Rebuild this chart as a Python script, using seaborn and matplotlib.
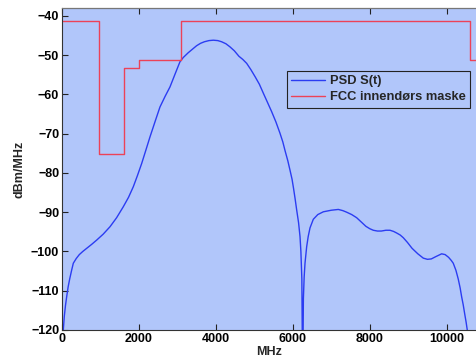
import matplotlib
matplotlib.use("Agg")
import matplotlib.pyplot as plt
import seaborn as sns
import pandas as pd

# PSD S(t) curve (MHz, dBm/MHz)
psd_mhz = [20, 34, 60, 90, 122, 160, 200, 250, 294, 370, 450, 540, 642, 770, 902,
           1070, 1248, 1420, 1594, 1730, 1854, 1960, 2071, 2180, 2288, 2420, 2547,
           2680, 2807, 2940, 3066, 3153, 3280, 3414, 3500, 3600, 3700, 3820, 3934,
           4050, 4150, 4260, 4367, 4480, 4600, 4700, 4801, 4910, 5020, 5130, 5234,
           5340, 5450, 5560, 5667, 5740, 5800, 5870, 5927, 5980, 6020, 6060, 6100,
           6150, 6187, 6210, 6235, 6256, 6275, 6295, 6317, 6360, 6400, 6447, 6533,
           6650, 6793, 7000, 7183, 7300, 7400, 7530, 7659, 7780, 7900, 8000, 8092,
           8200, 8300, 8420, 8526, 8620, 8700, 8790, 8872, 8980, 9100, 9250, 9392,
           9500, 9600, 9720, 9869, 9960, 10050, 10120, 10171, 10240, 10300, 10350,
           10388, 10430, 10470, 10505, 10535, 10570]
psd_db = [-130, -120, -116.5, -113.8, -111.5, -109.0, -107.0, -104.8, -103.0, -101.8,
          -100.8, -100.0, -99.2, -98.2, -97.1, -95.6, -93.7, -91.4, -88.6, -86.2,
          -83.5, -80.7, -77.6, -74.2, -70.8, -66.9, -63.2, -60.5, -58.1, -54.8, -51.7,
          -50.6, -49.4, -48.3, -47.6, -47.0, -46.6, -46.3, -46.2, -46.3, -46.6, -47.1,
          -47.9, -48.9, -50.3, -51.1, -52.1, -53.7, -55.5, -57.4, -59.7, -62.0, -64.4,
          -67.0, -69.9, -72.1, -74.4, -76.9, -79.3, -81.6, -84.0, -86.6, -89.4, -92.7,
          -96.2, -100.0, -107.0, -135, -112.0, -106.5, -103.0, -98.8, -96.2, -94.0,
          -91.8, -90.6, -89.9, -89.5, -89.3, -89.6, -90.0, -90.6, -91.4, -92.5,
          -93.6, -94.2, -94.6, -94.8, -94.8, -94.6, -94.6, -94.9, -95.3, -95.8, -96.5,
          -97.7, -99.2, -100.6, -101.7, -102.0, -101.9, -101.3, -100.6, -100.8,
          -101.5, -102.3, -103.0, -104.8, -107.0, -109.3, -111.5, -113.6, -116.0,
          -118.0, -120.0, -125]

# FCC indoor mask (step edges and levels)
mask_mhz = [0, 960, 1610, 1990, 3100, 10600, 10800]
mask_db = [-41.3, -75.3, -53.3, -51.3, -41.3, -51.3, -51.3]

psd = pd.DataFrame({"MHz": psd_mhz, "dB": psd_db})
mask = pd.DataFrame({"MHz": mask_mhz, "dB": mask_db})

sns.set_style("ticks")
plt.rcParams['font.family'] = ['Liberation Sans', 'DejaVu Sans']
plt.rcParams['font.weight'] = 'bold'

fig = plt.figure(figsize=(4.77, 3.61), dpi=100)
W, H = 477, 361
ax = fig.add_axes([62 / W, (H - 330) / H, (W - 62) / W, (330 - 8) / H])
ax.set_facecolor("#b1c6fa")

sns.lineplot(data=psd, x="MHz", y="dB", ax=ax, sort=False, estimator=None,
             color="#2b3cf2", linewidth=1.0, label="PSD S(t)")
sns.lineplot(data=mask, x="MHz", y="dB", ax=ax, sort=False, estimator=None,
             color="#ec4258", linewidth=1.0, drawstyle="steps-post",
             label="FCC innendørs maske")

ax.set_xlim(0, 10788)
ax.set_ylim(-120, -38)
ax.set_xticks([0, 2000, 4000, 6000, 8000, 10000])
ax.set_yticks(list(range(-120, -39, 10)))
ax.tick_params(direction="in", length=4, top=True, right=False,
               labelsize=9, width=0.8, colors="#222222", pad=2)
for lab in ax.get_xticklabels() + ax.get_yticklabels():
    lab.set_fontweight("bold")
    lab.set_color("black")
ax.spines["right"].set_visible(False)
for s in ["left", "bottom"]:
    ax.spines[s].set_color("#333333")
    ax.spines[s].set_linewidth(0.8)
ax.spines["top"].set_color("#777777")
ax.spines["top"].set_linewidth(0.9)

ax.set_xlabel("MHz", fontsize=9, fontweight="bold", labelpad=1)
ax.set_ylabel("dBm/MHz", fontsize=9, fontweight="bold", labelpad=4)

leg = ax.legend(loc="upper left", bbox_to_anchor=(0.541, 0.805), fontsize=9.3,
                frameon=True, fancybox=False, handlelength=2.6,
                borderpad=0.35, labelspacing=0.3, handletextpad=0.4,
                borderaxespad=0)
leg.get_frame().set_facecolor("#b1c6fa")
leg.get_frame().set_edgecolor("#222222")
leg.get_frame().set_linewidth(0.8)
leg.get_frame().set_alpha(1)
for t in leg.get_texts():
    t.set_fontweight("bold")

fig.savefig("out.png", dpi=100)
